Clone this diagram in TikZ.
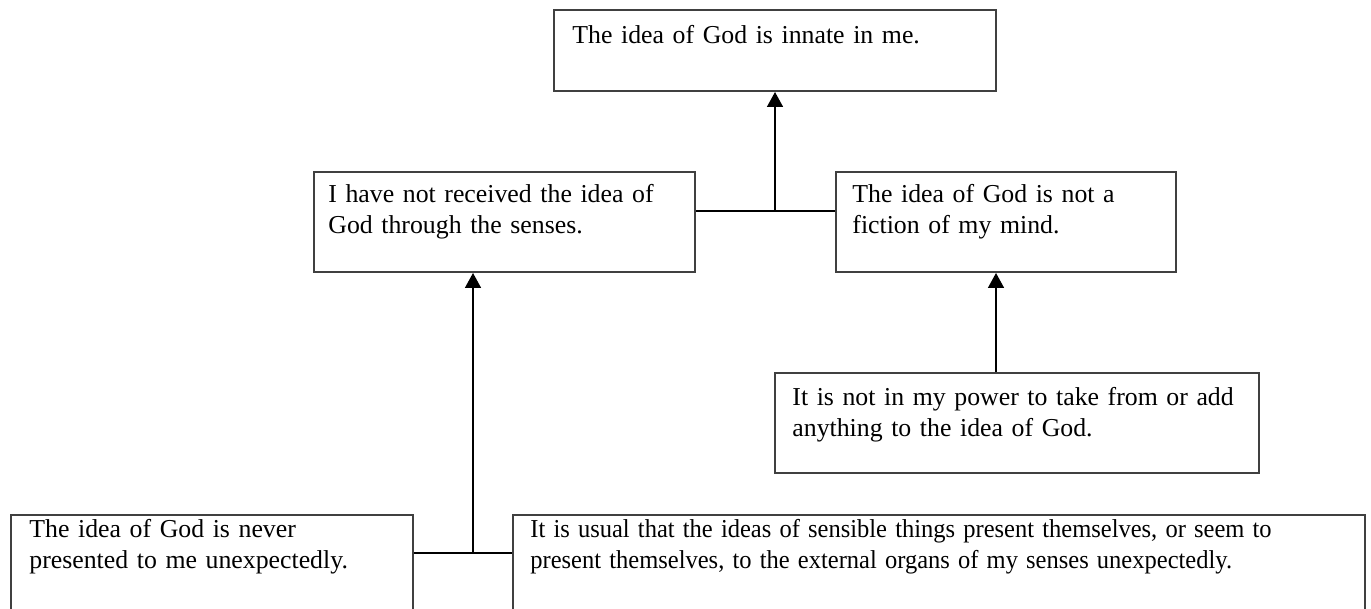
\documentclass[tikz,border=0pt]{standalone}
\usepackage{fontspec}
\usepackage{graphicx}
\setmainfont{Liberation Serif}
\usetikzlibrary{arrows.meta}
\tikzset{
  box/.style={draw=black!75, line width=1pt, rectangle, inner sep=0pt, anchor=north west, fill=white},
  txt/.style={inner sep=0pt, anchor=base west, align=left, text width=480pt,
              font=\fontsize{12.9}{15.5}\selectfont},
  conn/.style={draw=black, line width=0.8pt},
  arr/.style={conn, -{Triangle[width=8pt,length=7.5pt]}}
}
\begin{document}
\begin{tikzpicture}[x=0.5pt,y=-0.5pt]
\useasboundingbox (0,0) rectangle (1371,609);
\clip (0,0) rectangle (1371,609);
% boxes
\node[box, minimum width=221pt, minimum height=40.5pt] (A) at (553,9) {};
\node[box, minimum width=190.5pt, minimum height=50pt] (B) at (313,171) {};
\node[box, minimum width=170pt, minimum height=50pt] (C) at (835,171) {};
\node[box, minimum width=242pt, minimum height=50pt] (D) at (774,372) {};
\node[box, minimum width=201pt, minimum height=63pt] (E) at (10,514) {};
\node[box, minimum width=426pt, minimum height=63pt] (F) at (512,514) {};
% texts
\node[txt] (At) at (572,44) {The idea of God is innate in me.};
\node[txt] (Bt) at (328,203) {I have not received the idea of\\God through the senses.};
\node[txt] (Ct) at (852,203) {The idea of God is not a\\fiction of my mind.};
\node[txt] (Dt) at (792,405) {It is not in my power to take from or add\\anything to the idea of God.};
\node[txt] (Et) at (29,537) {The idea of God is never\\presented to me unexpectedly.};
\node[txt] (Ft) at (530,537) {\scalebox{0.95}[1]{It is usual that the ideas of sensible things present themselves, or seem to}\\\scalebox{0.95}[1]{present themselves, to the external organs of my senses unexpectedly.}};
% junctions
\coordinate (j1) at (775,211);
\coordinate (j2) at (473,553);
\coordinate (j3) at (996,372);
% connectors
\draw[conn] (B.east |- j1) -- (C.west |- j1);
\draw[arr] (j1) -- (A.south -| j1);
\draw[conn] (E.east |- j2) -- (F.west |- j2);
\draw[arr] (j2) -- (B.south -| j2);
\draw[arr] (D.north -| j3) -- (C.south -| j3);
\end{tikzpicture}
\end{document}
